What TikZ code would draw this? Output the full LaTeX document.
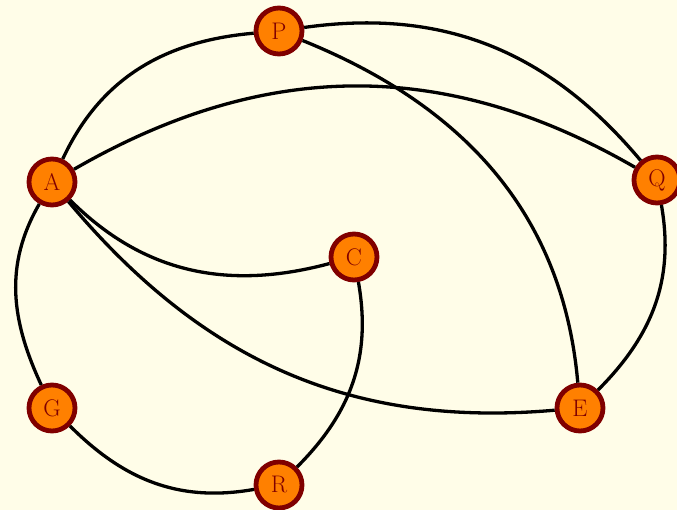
\documentclass[tikz,border=0pt]{standalone}
\usepackage{fontspec}
\setmainfont{Latin Modern Roman}
\definecolor{bg}{RGB}{255,253,232}
\definecolor{nodefill}{RGB}{255,128,0}
\definecolor{nodeline}{RGB}{128,0,0}
\begin{document}
\begin{tikzpicture}[x=1pt,y=1pt,
  vertex/.style={circle,draw=nodeline,fill=nodefill,line width=4.8pt,minimum size=46pt,inner sep=0pt,text=nodeline,font=\fontsize{24}{28}\selectfont},
  edge/.style={line width=3.3pt,black}]
\fill[bg] (0,0) rectangle (677,510);
\useasboundingbox (0,0) rectangle (677,510);
\node[vertex] (P) at (279,479) {P};
\node[vertex] (A) at (52,328) {A};
\node[vertex] (Q) at (657,330) {Q};
\node[vertex] (C) at (354,253) {C};
\node[vertex] (G) at (52,102) {G};
\node[vertex] (E) at (580,102) {E};
\node[vertex] (R) at (279,25) {R};
\draw[edge] (A) to[out=65,in=185] (P);
\draw[edge] (P) to[out=8,in=130] (Q);
\draw[edge] (A) to[out=30,in=150] (Q);
\draw[edge] (P) to[out=-22,in=95] (E);
\draw[edge] (A) to[out=-45,in=195] (C);
\draw[edge] (A) to[out=-50,in=185] (E);
\draw[edge] (A) to[out=240,in=115] (G);
\draw[edge] (G) to[out=-45,in=190] (R);
\draw[edge] (C) to[out=-80,in=45] (R);
\draw[edge] (Q) to[out=-80,in=45] (E);
\end{tikzpicture}
\end{document}
